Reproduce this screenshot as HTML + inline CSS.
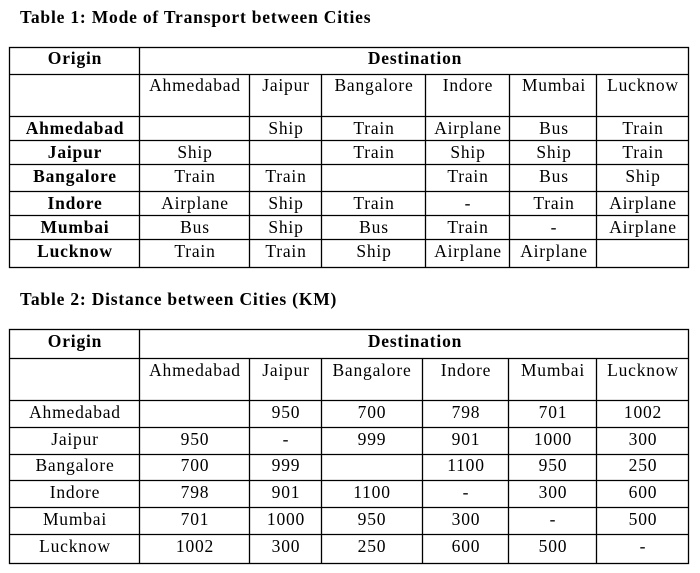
<!DOCTYPE html>
<html><head><meta charset="utf-8"><style>
html,body{margin:0;padding:0;background:#fff;width:700px;height:573px;overflow:hidden}
svg text{font-family:"Liberation Serif",serif;font-size:17.5px;letter-spacing:0.8px;fill:#000}
.b{font-weight:bold}
</style></head><body>
<svg width="700" height="573" xmlns="http://www.w3.org/2000/svg">
<g stroke="#000" stroke-width="1.3" fill="none">
<rect x="9.5" y="47.5" width="679" height="220"/>
<line x1="139.5" y1="47" x2="139.5" y2="268"/>
<line x1="249.5" y1="74" x2="249.5" y2="268"/>
<line x1="321.5" y1="74" x2="321.5" y2="268"/>
<line x1="425.5" y1="74" x2="425.5" y2="268"/>
<line x1="509.5" y1="74" x2="509.5" y2="268"/>
<line x1="596.5" y1="74" x2="596.5" y2="268"/>
<line x1="9" y1="74.5" x2="689" y2="74.5"/>
<line x1="9" y1="116.5" x2="689" y2="116.5"/>
<line x1="9" y1="140.5" x2="689" y2="140.5"/>
<line x1="9" y1="164.5" x2="689" y2="164.5"/>
<line x1="9" y1="191.5" x2="689" y2="191.5"/>
<line x1="9" y1="215.5" x2="689" y2="215.5"/>
<line x1="9" y1="239.5" x2="689" y2="239.5"/>
<rect x="9.5" y="329.5" width="679" height="234"/>
<line x1="139.5" y1="329" x2="139.5" y2="564"/>
<line x1="249.5" y1="358" x2="249.5" y2="564"/>
<line x1="321.5" y1="358" x2="321.5" y2="564"/>
<line x1="422.5" y1="358" x2="422.5" y2="564"/>
<line x1="508.5" y1="358" x2="508.5" y2="564"/>
<line x1="596.5" y1="358" x2="596.5" y2="564"/>
<line x1="9" y1="358.5" x2="689" y2="358.5"/>
<line x1="9" y1="400.5" x2="689" y2="400.5"/>
<line x1="9" y1="427.5" x2="689" y2="427.5"/>
<line x1="9" y1="454.5" x2="689" y2="454.5"/>
<line x1="9" y1="480.5" x2="689" y2="480.5"/>
<line x1="9" y1="507.5" x2="689" y2="507.5"/>
<line x1="9" y1="534.5" x2="689" y2="534.5"/>
</g>
<text class="b" x="20" y="23">Table 1: Mode of Transport between Cities</text>
<g text-anchor="middle">
<text class="b" x="75" y="64">Origin</text>
<text class="b" x="415" y="64">Destination</text>
<text x="195" y="91">Ahmedabad</text><text x="286" y="91">Jaipur</text><text x="374" y="91">Bangalore</text><text x="468" y="91">Indore</text><text x="554" y="91">Mumbai</text><text x="643" y="91">Lucknow</text>
<text class="b" x="75" y="134">Ahmedabad</text><text x="286" y="134">Ship</text><text x="374" y="134">Train</text><text x="468" y="134">Airplane</text><text x="554" y="134">Bus</text><text x="643" y="134">Train</text>
<text class="b" x="75" y="158">Jaipur</text><text x="195" y="158">Ship</text><text x="374" y="158">Train</text><text x="468" y="158">Ship</text><text x="554" y="158">Ship</text><text x="643" y="158">Train</text>
<text class="b" x="75" y="182">Bangalore</text><text x="195" y="182">Train</text><text x="286" y="182">Train</text><text x="468" y="182">Train</text><text x="554" y="182">Bus</text><text x="643" y="182">Ship</text>
<text class="b" x="75" y="209">Indore</text><text x="195" y="209">Airplane</text><text x="286" y="209">Ship</text><text x="374" y="209">Train</text><text x="468" y="209">-</text><text x="554" y="209">Train</text><text x="643" y="209">Airplane</text>
<text class="b" x="75" y="233">Mumbai</text><text x="195" y="233">Bus</text><text x="286" y="233">Ship</text><text x="374" y="233">Bus</text><text x="468" y="233">Train</text><text x="554" y="233">-</text><text x="643" y="233">Airplane</text>
<text class="b" x="75" y="257">Lucknow</text><text x="195" y="257">Train</text><text x="286" y="257">Train</text><text x="374" y="257">Ship</text><text x="468" y="257">Airplane</text><text x="554" y="257">Airplane</text>
</g>
<text class="b" x="20" y="305">Table 2: Distance between Cities (KM)</text>
<g text-anchor="middle">
<text class="b" x="75" y="347">Origin</text>
<text class="b" x="415" y="347">Destination</text>
<text x="195" y="376">Ahmedabad</text><text x="286" y="376">Jaipur</text><text x="372" y="376">Bangalore</text><text x="466" y="376">Indore</text><text x="553" y="376">Mumbai</text><text x="643" y="376">Lucknow</text>
<text x="75" y="418">Ahmedabad</text><text x="286" y="418">950</text><text x="372" y="418">700</text><text x="466" y="418">798</text><text x="553" y="418">701</text><text x="643" y="418">1002</text>
<text x="75" y="445">Jaipur</text><text x="195" y="445">950</text><text x="286" y="445">-</text><text x="372" y="445">999</text><text x="466" y="445">901</text><text x="553" y="445">1000</text><text x="643" y="445">300</text>
<text x="75" y="471">Bangalore</text><text x="195" y="471">700</text><text x="286" y="471">999</text><text x="466" y="471">1100</text><text x="553" y="471">950</text><text x="643" y="471">250</text>
<text x="75" y="498">Indore</text><text x="195" y="498">798</text><text x="286" y="498">901</text><text x="372" y="498">1100</text><text x="466" y="498">-</text><text x="553" y="498">300</text><text x="643" y="498">600</text>
<text x="75" y="525">Mumbai</text><text x="195" y="525">701</text><text x="286" y="525">1000</text><text x="372" y="525">950</text><text x="466" y="525">300</text><text x="553" y="525">-</text><text x="643" y="525">500</text>
<text x="75" y="552">Lucknow</text><text x="195" y="552">1002</text><text x="286" y="552">300</text><text x="372" y="552">250</text><text x="466" y="552">600</text><text x="553" y="552">500</text><text x="643" y="552">-</text>
</g>
</svg>
</body></html>
